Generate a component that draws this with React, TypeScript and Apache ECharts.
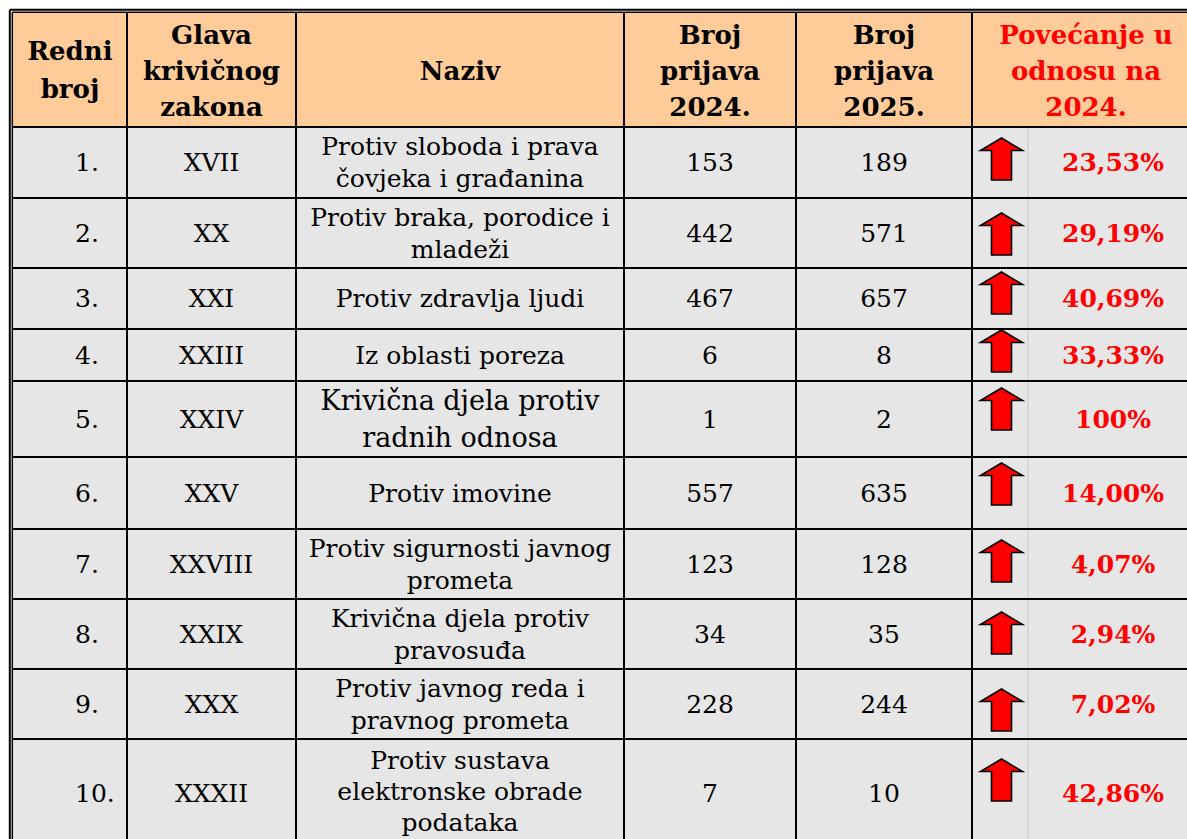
import React, { useEffect, useRef } from "react";
import * as echarts from "echarts";

// ---------- data ----------
const HEADERS = [
  "Redni\nbroj",
  "Glava\nkrivičnog\nzakona",
  "Naziv",
  "Broj\nprijava\n2024.",
  "Broj\nprijava\n2025.",
  "Povećanje u\nodnosu na\n2024.",
];
const ROW_NUMS = ["1.", "2.", "3.", "4.", "5.", "6.", "7.", "8.", "9.", "10."];
const CHAPTERS = ["XVII", "XX", "XXI", "XXIII", "XXIV", "XXV", "XXVIII", "XXIX", "XXX", "XXXII"];
const NAMES = [
  "Protiv sloboda i prava\nčovjeka i građanina",
  "Protiv braka, porodice i\nmladeži",
  "Protiv zdravlja ljudi",
  "Iz oblasti poreza",
  "Krivična djela protiv\nradnih odnosa",
  "Protiv imovine",
  "Protiv sigurnosti javnog\nprometa",
  "Krivična djela protiv\npravosuđa",
  "Protiv javnog reda i\npravnog prometa",
  "Protiv sustava\nelektronske obrade\npodataka",
];
const REPORTS_2024 = [153, 442, 467, 6, 1, 557, 123, 34, 228, 7];
const REPORTS_2025 = [189, 571, 657, 8, 2, 635, 128, 35, 244, 10];
const INCREASE = ["23,53%", "29,19%", "40,69%", "33,33%", "100%", "14,00%", "4,07%", "2,94%", "7,02%", "42,86%"];

// ---------- layout ----------
const W = 1187;
const H = 839;
const COL_EDGES = [13, 127, 296, 624, 796, 972, 1028, 1215];
const ROW_EDGES = [13, 127, 198, 268, 329, 381, 457, 529, 599, 669, 739, 846];
const ARROW_OFFSETS = [11, 15, 4, 1, 7, 6, 11, 13, 20, 20];
const FONT = "'DejaVu Serif', 'Liberation Serif', serif";
const HEADER_FILL = "#FFCC99";
const BODY_FILL = "#E6E6E6";
const RED = "#FF0000";

export default function App() {
  const ref = useRef<HTMLDivElement>(null);

  useEffect(() => {
    if (!ref.current) return;
    const chart = echarts.init(ref.current, null, { renderer: "svg" });

    const text = (x: number, y: number, t: string, opts: any = {}) => ({
      type: "text",
      x,
      y,
      silent: true,
      style: {
        text: t,
        fill: opts.fill || "#000",
        fontFamily: FONT,
        fontSize: opts.fontSize || 25,
        fontWeight: opts.fontWeight || "normal",
        align: opts.align || "center",
        verticalAlign: "middle",
        lineHeight: opts.lineHeight || 33,
      },
    });
    const line = (x1: number, y1: number, x2: number, y2: number, w = 2, c = "#000") => ({
      type: "line",
      silent: true,
      shape: { x1, y1, x2, y2 },
      style: { stroke: c, lineWidth: w },
    });

    const headerRender = (params: any, api: any) => {
      const p = (x: number, y: number) => api.coord([x, y]);
      const [x0, y0] = p(COL_EDGES[0], ROW_EDGES[0]);
      const [x1, y1] = p(COL_EDGES[COL_EDGES.length - 1], ROW_EDGES[1]);
      const [, yEnd] = p(0, ROW_EDGES[ROW_EDGES.length - 1]);
      const children: any[] = [];
      children.push({ type: "rect", silent: true, shape: { x: x0, y: y0, width: x1 - x0, height: y1 - y0 }, style: { fill: HEADER_FILL } });
      // double outer border
      children.push(line(x0 - 3.2, y0 - 3.2, x1, y0 - 3.2, 2));
      children.push(line(x0 - 0.7, y0 - 0.7, x1, y0 - 0.7, 1.5));
      children.push(line(x0 - 3.2, y0 - 3.2, x0 - 3.2, yEnd, 2));
      children.push(line(x0 - 0.7, y0 - 0.7, x0 - 0.7, yEnd, 1.5));
      const cy = (y0 + y1) / 2 + 1;
      const spans = [[0, 1], [1, 2], [2, 3], [3, 4], [4, 5], [5, 7]];
      spans.forEach(([a, b], k) => {
        const xa = p(COL_EDGES[a], 0)[0];
        const xc = k === 5 ? p(1086, 0)[0] : (xa + p(COL_EDGES[b], 0)[0]) / 2;
        children.push(
          text(xc, k === 0 ? cy - 1 : cy, HEADERS[k], {
            fontWeight: "bold",
            fontSize: 26,
            lineHeight: k === 0 ? 38 : 36,
            fill: k === 5 ? RED : "#000",
          })
        );
        if (k > 0) children.push(line(xa, y0, xa, y1, 2));
      });
      children.push(line(x0, y1, x1, y1, 2.2));
      return { type: "group", children };
    };

    const rowRender = (params: any, api: any) => {
      const i = params.dataIndex;
      const p = (x: number, y: number) => api.coord([x, y]);
      const top = p(0, ROW_EDGES[i + 1])[1];
      const bot = p(0, ROW_EDGES[i + 2])[1];
      const xs = COL_EDGES.map((c) => p(c, 0)[0]);
      const last = i === ROW_NUMS.length - 1;
      const cy = last ? (top + bot) / 2 + 1 : (top + bot) / 2;
      const children: any[] = [];
      children.push({ type: "rect", silent: true, shape: { x: xs[0], y: top, width: xs[xs.length - 1] - xs[0], height: bot - top }, style: { fill: BODY_FILL } });
      // texts
      children.push(text(p(75, 0)[0], cy, ROW_NUMS[i], { align: "left" }));
      children.push(text((xs[1] + xs[2]) / 2, cy, CHAPTERS[i]));
      const big = i === 4;
      children.push(
        text((xs[2] + xs[3]) / 2, last ? cy - 2 : cy, NAMES[i], {
          fontSize: big ? 27 : 25,
          lineHeight: big ? 37 : last ? 31 : 32,
        })
      );
      children.push(text((xs[3] + xs[4]) / 2, cy, String(REPORTS_2024[i])));
      children.push(text((xs[4] + xs[5]) / 2, cy, String(REPORTS_2025[i])));
      children.push(text(p(1113, 0)[0], cy, INCREASE[i], { fill: RED, fontWeight: "bold", fontSize: 25 }));
      // arrow
      const cx = p(1001.5, 0)[0];
      const t = p(0, ROW_EDGES[i + 1] + ARROW_OFFSETS[i])[1];
      children.push({
        type: "polygon",
        silent: true,
        shape: {
          points: [
            [cx, t],
            [cx + 21, t + 12.5],
            [cx + 10, t + 12.5],
            [cx + 10, t + 42],
            [cx - 10, t + 42],
            [cx - 10, t + 12.5],
            [cx - 21, t + 12.5],
          ],
        },
        style: { fill: RED, stroke: "#000", lineWidth: 1.6, lineJoin: "miter" },
      });
      // borders
      children.push(line(xs[6], top, xs[6], bot, 1.5, "#D2D2D2"));
      for (let k = 1; k <= 5; k++) children.push(line(xs[k], top - 1, xs[k], bot + 1, 2));
      children.push(line(xs[0], bot, xs[xs.length - 1], bot, 2));
      children.push(line(xs[0], top, xs[xs.length - 1], top, 2));
      return { type: "group", children };
    };

    chart.setOption({
      animation: false,
      backgroundColor: "#FFFFFF",
      grid: { left: 0, right: 0, top: 0, bottom: 0 },
      xAxis: { type: "value", min: 0, max: W, show: false },
      yAxis: { type: "value", min: 0, max: H, inverse: true, show: false },
      series: [
        {
          type: "custom",
          z: 2,
          silent: true,
          data: ROW_NUMS.map((_, i) => [i]),
          renderItem: rowRender,
        },
        {
          type: "custom",
          z: 3,
          silent: true,
          data: [[0]],
          renderItem: headerRender,
        },
      ],
    });

    return () => chart.dispose();
  }, []);

  return (
    <div
      ref={ref}
      style={{ position: "fixed", left: 0, top: 0, width: W, height: H, background: "#fff" }}
    />
  );
}
